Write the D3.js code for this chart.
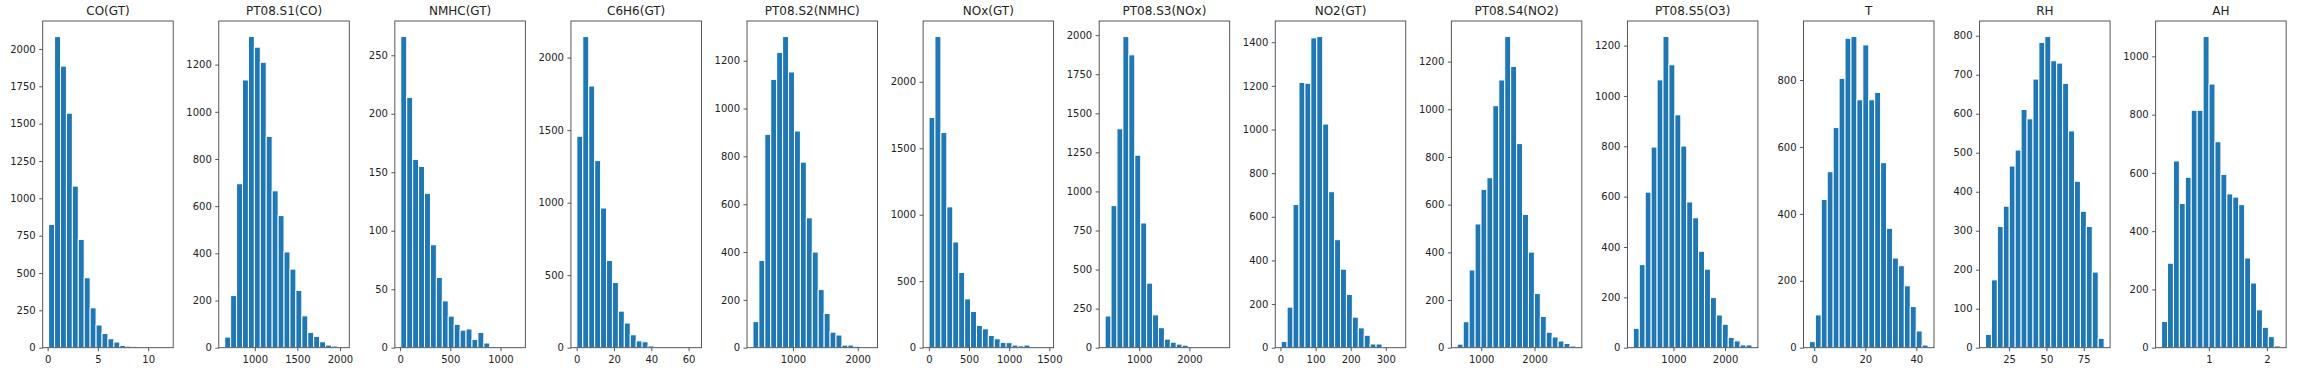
<!DOCTYPE html>
<html>
<head>
<meta charset="utf-8">
<script src="https://cdn.jsdelivr.net/npm/d3@7"></script>
<style>
  body { margin: 0; background: #fff; }
  svg { display: block; }
  text { font-family: "DejaVu Sans", sans-serif; fill: #222; }
</style>
</head>
<body>
<script>
// column names, one histogram (20 bins) per column
const columns = ["CO(GT)", "PT08.S1(CO)", "NMHC(GT)", "C6H6(GT)", "PT08.S2(NMHC)", "NOx(GT)",
    "PT08.S3(NOx)", "NO2(GT)", "PT08.S4(NO2)", "PT08.S5(O3)", "T", "RH", "AH"];

// data min / max of each column (bin range)
const binLo = [0.1, 647, 7, 0.1, 383, 2, 322, 2, 551, 221, -1.9, 9.2, 0.1847];
const binHi = [11.9, 2040, 1189, 63.7, 2214, 1479, 2683, 340, 2775, 2523, 44.6, 88.7, 2.231];

// bin counts
const coCounts   = [825, 2083, 1885, 1570, 1082, 725, 468, 267, 152, 95, 60, 38, 15, 10, 9, 2, 1, 1, 0, 1];
const s1Counts   = [45, 221, 695, 1135, 1319, 1274, 1210, 896, 665, 560, 406, 333, 243, 135, 65, 48, 25, 11, 7, 2];
const nmhcCounts = [266, 214, 161, 155, 132, 88, 60, 40, 27, 20, 15, 16, 7, 13, 4, 1, 0, 0, 1, 0];
const c6h6Counts = [1458, 2145, 1804, 1290, 963, 601, 449, 252, 170, 89, 47, 41, 12, 3, 1, 1, 0, 0, 0, 1];
const s2Counts   = [109, 365, 892, 1122, 1235, 1301, 1153, 906, 776, 543, 400, 243, 143, 65, 53, 11, 11, 6, 2, 1];
const noxCounts  = [1731, 2340, 1618, 1059, 795, 566, 367, 272, 168, 142, 92, 67, 40, 38, 20, 14, 20, 0, 0, 1];
const s3Counts   = [203, 909, 1401, 1991, 1874, 1232, 798, 413, 210, 128, 55, 35, 23, 16, 2, 1, 0, 0, 0, 1];
const no2Counts  = [28, 186, 656, 1216, 1212, 1420, 1426, 1025, 715, 495, 360, 244, 140, 91, 57, 17, 17, 0, 0, 1];
const s4Counts   = [15, 109, 326, 519, 664, 713, 1015, 1123, 1305, 1180, 856, 559, 401, 227, 131, 65, 45, 28, 18, 7];
const s5Counts   = [77, 330, 618, 797, 1064, 1236, 1124, 925, 801, 579, 516, 383, 312, 199, 130, 93, 41, 27, 11, 11];
const tCounts    = [18, 98, 443, 526, 658, 805, 925, 930, 741, 905, 741, 763, 553, 357, 268, 245, 185, 123, 50, 8];
const rhCounts   = [34, 174, 311, 363, 466, 507, 611, 587, 689, 783, 798, 736, 730, 678, 556, 427, 350, 311, 194, 24];
const ahCounts   = [90, 290, 641, 495, 585, 815, 815, 1068, 905, 707, 595, 528, 517, 491, 308, 222, 130, 70, 38, 6];

const allCounts = [coCounts, s1Counts, nmhcCounts, c6h6Counts, s2Counts, noxCounts, s3Counts,
    no2Counts, s4Counts, s5Counts, tCounts, rhCounts, ahCounts];

// tick labels
const xTicks = [[0, 5, 10], [1000, 1500, 2000], [0, 500, 1000], [0, 20, 40, 60], [1000, 2000],
    [0, 500, 1000, 1500], [1000, 2000], [0, 100, 200, 300], [1000, 2000], [1000, 2000],
    [0, 20, 40], [25, 50, 75], [1, 2]];
const yTicks = [
    [0, 250, 500, 750, 1000, 1250, 1500, 1750, 2000],
    [0, 200, 400, 600, 800, 1000, 1200],
    [0, 50, 100, 150, 200, 250],
    [0, 500, 1000, 1500, 2000],
    [0, 200, 400, 600, 800, 1000, 1200],
    [0, 500, 1000, 1500, 2000],
    [0, 250, 500, 750, 1000, 1250, 1500, 1750, 2000],
    [0, 200, 400, 600, 800, 1000, 1200, 1400],
    [0, 200, 400, 600, 800, 1000, 1200],
    [0, 200, 400, 600, 800, 1000, 1200],
    [0, 200, 400, 600, 800],
    [0, 100, 200, 300, 400, 500, 600, 700, 800],
    [0, 200, 400, 600, 800, 1000]
];

const W = 2297, H = 372;
const axLeft0 = 42.7, axStep = 176.08, axW = 130.5;
const axTop = 21, axBottom = 347.7;
const nBins = 20;

const svg = d3.select("body").append("svg")
    .attr("width", W)
    .attr("height", H);

svg.append("rect").attr("width", W).attr("height", H).attr("fill", "#fff");

columns.forEach((name, i) => {
    const lo = binLo[i], hi = binHi[i], counts = allCounts[i];
    const span = hi - lo;
    const x0 = axLeft0 + i * axStep;

    const x = d3.scaleLinear()
        .domain([lo - 0.05 * span, hi + 0.05 * span])
        .range([x0, x0 + axW]);
    const y = d3.scaleLinear()
        .domain([0, d3.max(counts) * 1.05])
        .range([axBottom, axTop]);

    const binW = span / nBins;
    const g = svg.append("g");

    // bars
    g.selectAll("rect.bar")
        .data(counts)
        .join("rect")
        .attr("class", "bar")
        .attr("x", (d, k) => x(lo + k * binW))
        .attr("width", (d, k) => x(lo + (k + 1) * binW) - x(lo + k * binW))
        .attr("y", d => y(d))
        .attr("height", d => axBottom - y(d))
        .attr("fill", "#1f77b4")
        .attr("stroke", "#fff")
        .attr("stroke-width", 1);

    // axes
    const yAxis = g.append("g")
        .attr("transform", `translate(${x0},0)`)
        .call(d3.axisLeft(y).tickValues(yTicks[i]).tickSize(3.5).tickPadding(3.5).tickFormat(d3.format("d")));
    const xAxis = g.append("g")
        .attr("transform", `translate(0,${axBottom})`)
        .call(d3.axisBottom(x).tickValues(xTicks[i]).tickSize(3.5).tickPadding(3.5).tickFormat(d3.format("d")));

    [yAxis, xAxis].forEach(a => {
        a.select(".domain").remove();
        a.selectAll(".tick line").attr("stroke", "#444").attr("stroke-width", 0.9);
        a.selectAll(".tick text").attr("font-size", 10).attr("font-family", "DejaVu Sans").attr("fill", "#222");
    });
    xAxis.selectAll(".tick text").attr("dy", null).attr("y", 15.5).attr("dominant-baseline", "auto");

    // frame
    g.append("rect")
        .attr("x", x0).attr("y", axTop)
        .attr("width", axW).attr("height", axBottom - axTop)
        .attr("fill", "none")
        .attr("stroke", "#444")
        .attr("stroke-width", 0.9);

    // title
    g.append("text")
        .attr("x", x0 + axW / 2)
        .attr("y", 15)
        .attr("text-anchor", "middle")
        .attr("font-size", 12)
        .text(name);
});
</script>
</body>
</html>
